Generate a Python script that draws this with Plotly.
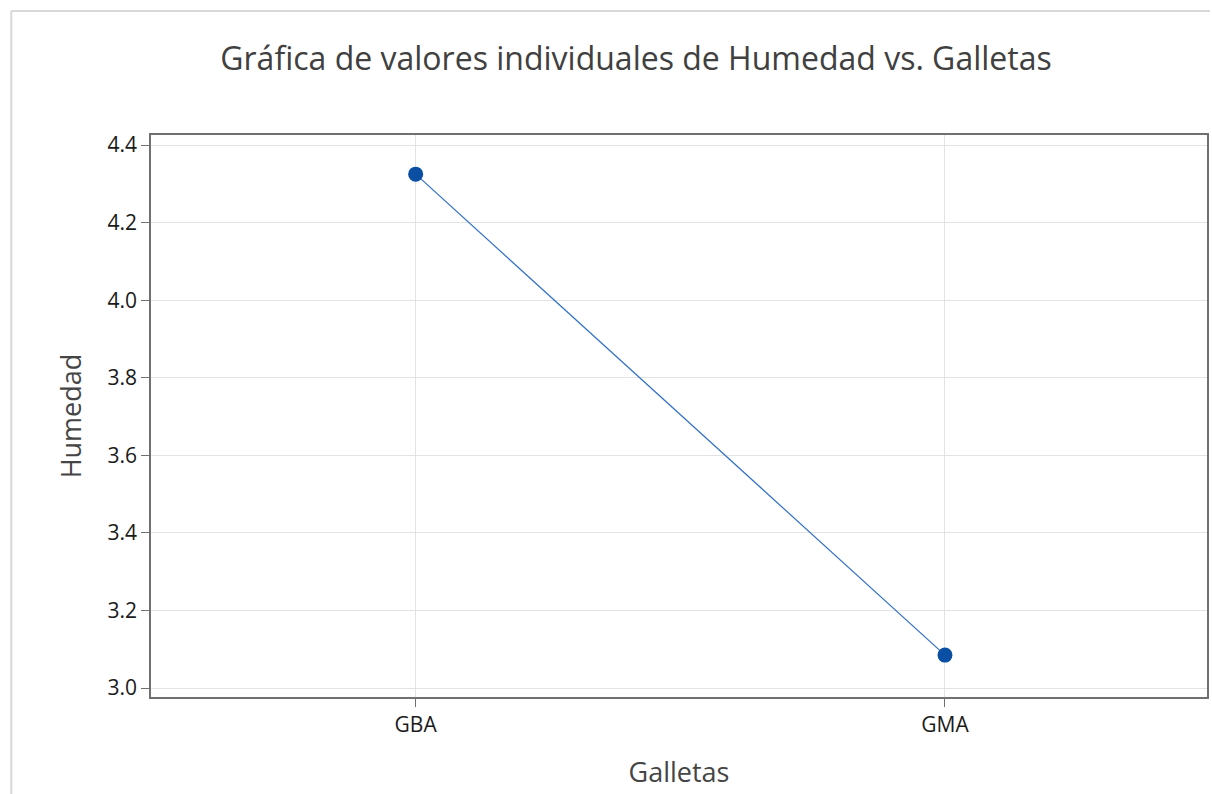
import plotly.graph_objects as go

categories = ["GBA", "GMA"]
humedad = [4.325, 3.085]
y_ticks = [3.0, 3.2, 3.4, 3.6, 3.8, 4.0, 4.2, 4.4]
y_tick_labels = ["3.0", "3.2", "3.4", "3.6", "3.8", "4.0", "4.2", "4.4"]

W, H = 1212, 794
L, R, T, B = 151, 3, 135, 97
pw, ph = W - L - R, H - T - B

def px(x):
    return (x - L) / pw

def py(y):
    return (H - B - y) / ph

fig = go.Figure()
fig.add_trace(go.Scatter(
    x=categories, y=humedad, mode="lines+markers",
    line=dict(color="#2f6fc4", width=1.2),
    marker=dict(color="#0a4fa3", size=15),
    showlegend=False,
))

font = "Open Sans, Noto Sans, sans-serif"
fig.update_layout(
    width=W, height=H,
    margin=dict(l=L, r=R, t=T, b=B),
    paper_bgcolor="white", plot_bgcolor="white",
    title=dict(text="Gráfica de valores individuales de Humedad vs. Galletas",
               x=636 / W, xanchor="center", y=1 - 59 / H, yanchor="middle",
               font=dict(family=font, size=32, color="#404040")),
    xaxis=dict(
        type="category", range=[-0.5, 1.495],
        showgrid=True, gridcolor="#e3e3e3", gridwidth=1,
        showline=True, linecolor="#707070", linewidth=1.5, mirror=True,
        ticks="outside", ticklen=8, tickcolor="#707070",
        tickfont=dict(family=font, size=21, color="#1a1a1a"),
        title=dict(text="Galletas", font=dict(family=font, size=27, color="#454545"), standoff=26),
        zeroline=False,
    ),
    yaxis=dict(
        range=[2.977, 4.426],
        tickvals=y_ticks, ticktext=y_tick_labels,
        showgrid=True, gridcolor="#e3e3e3", gridwidth=1,
        showline=True, linecolor="#707070", linewidth=1.5, mirror=True,
        ticks="outside", ticklen=8, tickcolor="#707070",
        tickfont=dict(family=font, size=21, color="#1a1a1a"),
        title=dict(text="Humedad", font=dict(family=font, size=27, color="#454545"), standoff=18),
        zeroline=False,
    ),
    shapes=[
        dict(type="line", xref="paper", yref="paper", x0=px(11), x1=px(W), y0=py(11), y1=py(11),
             line=dict(color="#d8d8d8", width=2)),
        dict(type="line", xref="paper", yref="paper", x0=px(11), x1=px(11), y0=py(11), y1=py(H),
             line=dict(color="#d8d8d8", width=2)),
    ],
)

fig.write_html("out.html", config={"displayModeBar": False},
               post_script="document.body.style.margin='0';document.body.style.overflow='hidden';")
